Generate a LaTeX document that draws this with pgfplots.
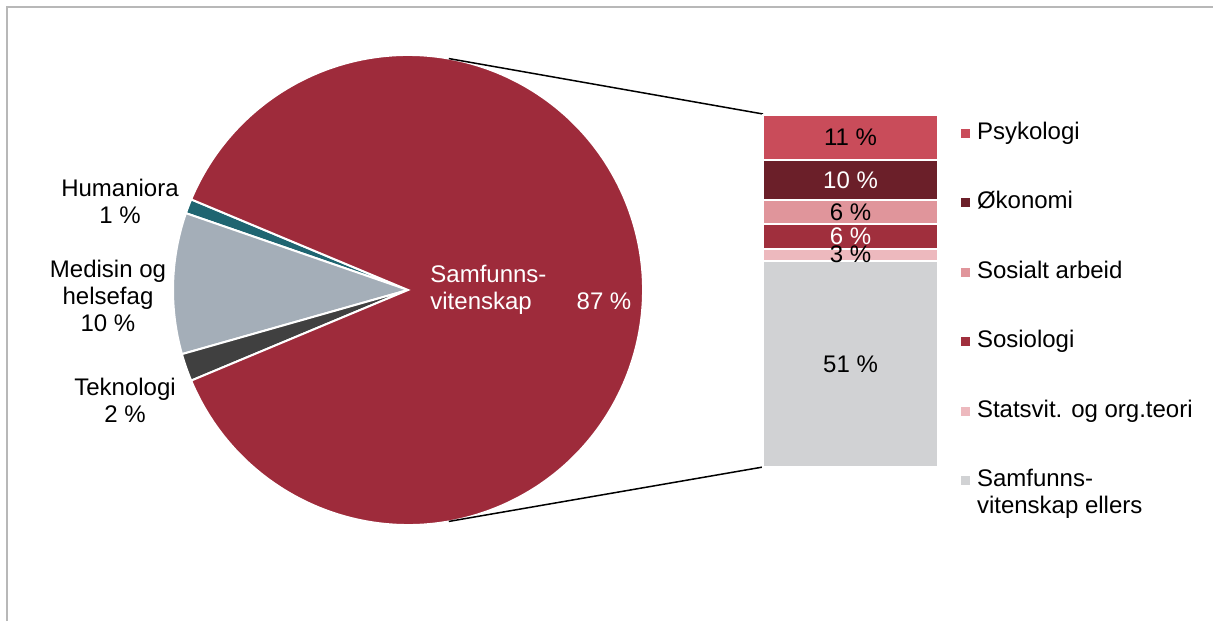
\documentclass[border=0pt]{standalone}
\usepackage{fontspec}
\setmainfont{Liberation Sans}
\usepackage{pgfplots}
\pgfplotsset{compat=1.18}
\usetikzlibrary{calc}
\definecolor{samf}{HTML}{9E2B3B}
\definecolor{psyk}{HTML}{C94C5A}
\definecolor{okon}{HTML}{6B1F29}
\definecolor{sosarb}{HTML}{E0959B}
\definecolor{sosio}{HTML}{A02F3D}
\definecolor{stats}{HTML}{EDB9BE}
\definecolor{ellers}{HTML}{D1D2D4}
\definecolor{med}{HTML}{A4AEB8}
\definecolor{tek}{HTML}{404040}
\definecolor{hum}{HTML}{1F6571}
\definecolor{framegray}{HTML}{B8B8B8}
\pgfplotsset{sqlegend/.style={legend image code/.code={\fill[##1,draw=none] (0pt,-2.25pt) rectangle (4.5pt,2.25pt);}}}
\begin{document}
\fontsize{12pt}{13.5pt}\selectfont
\begin{tikzpicture}
% main canvas axis (1 unit = 1 px of the reference)
\begin{axis}[at={(0pt,0pt)}, anchor=south west, width=606.5pt, height=310.5pt,
  scale only axis, xmin=0, xmax=1213, ymin=0, ymax=621, hide axis, clip=false]
\addplot[draw=none, forget plot] coordinates {(0,0)};
\coordinate (C) at (axis cs:408,331);
\coordinate (BT) at (axis cs:763,507);
\coordinate (BB) at (axis cs:763,154);
\coordinate (Lhum) at (axis cs:120,420);
\coordinate (Lmed) at (axis cs:108,325);
\coordinate (Ltek) at (axis cs:125,221);
\coordinate (Lsamf) at (axis cs:430,331);
\coordinate (Lpct) at (axis cs:604,320);
\draw[framegray, line width=0.75pt] (axis cs:7,0) -- (axis cs:7,614) -- (axis cs:1213,614);
\end{axis}
% pie from data (shares in percent)
\def\R{117.5pt}
\pgfmathsetmacro\astart{180-3.6*(1+9.7+1.9)/2}
\xdef\acur{\astart}
\foreach \v/\col in {1/hum, 9.7/med, 1.9/tek, 87.4/samf}{
  \pgfmathsetmacro\anext{\acur+3.6*\v}
  \fill[\col, draw=white, line width=1pt] (C) -- ++(\acur:\R) arc[start angle=\acur, end angle=\anext, radius=\R] -- cycle;
  \xdef\acur{\anext}
}
\draw[black, line width=0.75pt] ($(C)+(80:\R)$) -- (BT);
\draw[black, line width=0.75pt] ($(C)+(-80:\R)$) -- (BB);
\node[align=center] at (Lhum) {Humaniora\\1 \%};
\node[align=center] at (Lmed) {Medisin og\\helsefag\\10 \%};
\node[align=center] at (Ltek) {Teknologi\\2 \%};
\node[align=left, anchor=west, text=white, inner sep=0pt] at (Lsamf) {Samfunns-\\vitenskap};
\node[text=white] at (Lpct) {87 \%};
% bar of pie
\begin{axis}[at={(381.5pt,77pt)}, anchor=south west, width=87.5pt, height=176pt,
  scale only axis, xmin=-0.5, xmax=0.5, ymin=0, ymax=87, hide axis, clip=false,
  ybar stacked, bar width=87.5pt,
  reverse legend, legend cell align=left,
  legend style={at={(1.1314,0.982)}, anchor=north west, draw=none, fill=none,
    inner sep=0pt, outer sep=0pt, row sep=22.75pt, column sep=3.5pt,
    nodes={inner sep=0pt, text height=9pt, text depth=3pt}}]
\addplot[sqlegend, fill=ellers, draw=white, line width=1pt] coordinates {(0,51)};
\addlegendentry{\begin{tabular}[t]{@{}l@{}}Samfunns-\\vitenskap ellers\end{tabular}}
\addplot[sqlegend, fill=stats, draw=white, line width=1pt] coordinates {(0,3)};
\addlegendentry{Statsvit. og org.teori}
\addplot[sqlegend, fill=sosio, draw=white, line width=1pt] coordinates {(0,6)};
\addlegendentry{Sosiologi}
\addplot[sqlegend, fill=sosarb, draw=white, line width=1pt] coordinates {(0,6)};
\addlegendentry{Sosialt arbeid}
\addplot[sqlegend, fill=okon, draw=white, line width=1pt] coordinates {(0,10)};
\addlegendentry{Økonomi}
\addplot[sqlegend, fill=psyk, draw=white, line width=1pt] coordinates {(0,11)};
\addlegendentry{Psykologi}
\coordinate (V1) at (axis cs:0,25.5);
\coordinate (V2) at (axis cs:0,52.5);
\coordinate (V3) at (axis cs:0,57);
\coordinate (V4) at (axis cs:0,63);
\coordinate (V5) at (axis cs:0,71);
\coordinate (V6) at (axis cs:0,81.5);
\end{axis}
\node at (V1) {51 \%};
\node at (V2) {3 \%};
\node[text=white] at (V3) {6 \%};
\node at (V4) {6 \%};
\node[text=white] at (V5) {10 \%};
\node at (V6) {11 \%};
\pgfresetboundingbox
\path[use as bounding box] (0pt,0pt) rectangle (606.5pt,310.5pt);
\end{tikzpicture}
\end{document}
